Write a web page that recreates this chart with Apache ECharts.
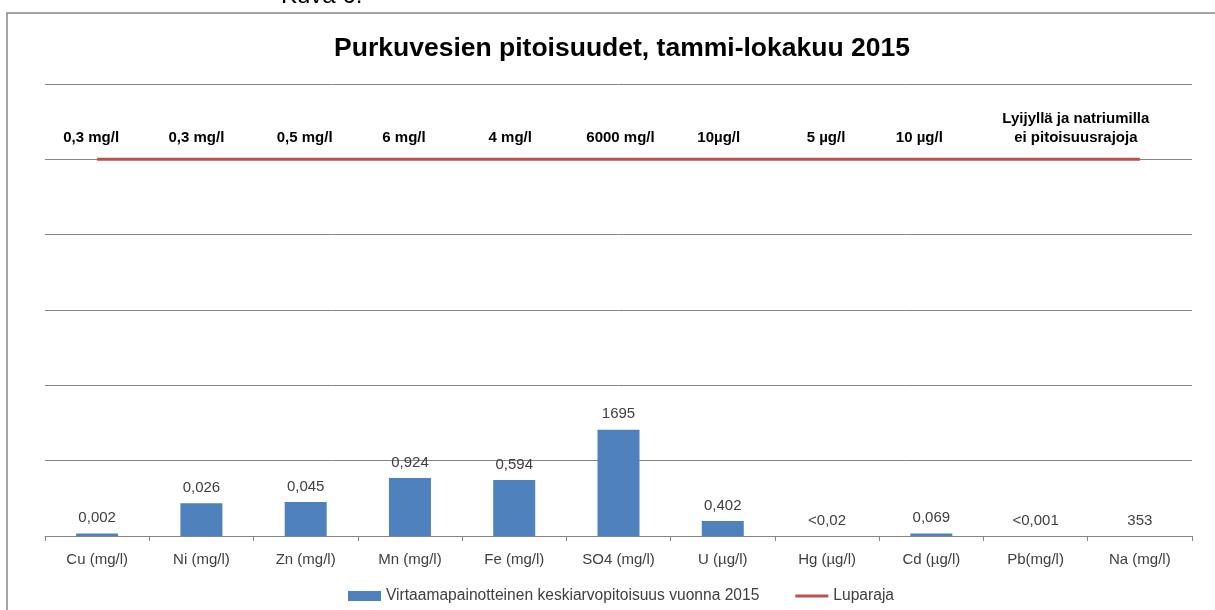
<!DOCTYPE html>
<html>
<head>
<meta charset="utf-8">
<script src="https://cdn.jsdelivr.net/npm/echarts@6/dist/echarts.min.js"></script>
<style>
  html, body { margin: 0; padding: 0; background: #fff; }
  #chart { width: 1215px; height: 610px; }
</style>
</head>
<body>
<div id="chart"></div>
<script>
// luokat (x-akseli)
const categories = ['Cu (mg/l)', 'Ni (mg/l)', 'Zn (mg/l)', 'Mn (mg/l)', 'Fe (mg/l)', 'SO4 (mg/l)',
    'U (µg/l)', 'Hg (µg/l)', 'Cd (µg/l)', 'Pb(mg/l)', 'Na (mg/l)'];
// pylvään korkeus = pitoisuus prosentteina luparajasta (luettu kuvasta)
const barPercent = [0.67, 8.7, 9.0, 15.4, 14.9, 28.2, 4.0, 0, 0.69, 0, 0];
// pylväiden yläpuolella näkyvät arvot
const barLabels = ['0,002', '0,026', '0,045', '0,924', '0,594', '1695', '0,402', '<0,02', '0,069', '<0,001', '353'];
// luparaja = 100 %
const limitLine = [100, 100, 100, 100, 100, 100, 100, 100, 100, 100, 100];
const limitLabels = ['0,3 mg/l', '0,3 mg/l', '0,5 mg/l', '6 mg/l', '4 mg/l', '6000 mg/l', '10µg/l',
    '5 µg/l', '10 µg/l', '', 'Lyijyllä ja natriumilla\nei pitoisuusrajoja'];

// tekstien pieni siirto vaakasuunnassa (px)
const limitShift = [-6, -5, -1, -6, -4, 2, -4, -1, -12, 0, -64];

const barName = 'Virtaamapainotteinen keskiarvopitoisuus vuonna 2015';
const lineName = 'Luparaja';

var myChart = echarts.init(document.getElementById('chart'));

var option = {
    animation: false,
    textStyle: { fontFamily: 'Liberation Sans' },
    title: {
        text: 'Purkuvesien pitoisuudet, tammi-lokakuu 2015',
        left: 617,
        textAlign: 'center',
        top: 30,
        textStyle: { fontSize: 26.5, fontWeight: 'bold', color: '#000' }
    },
    graphic: [
        {
            type: 'rect',
            shape: { x: 7, y: 13, width: 1400, height: 800 },
            style: { fill: 'none', stroke: '#868686', lineWidth: 1.5 },
            silent: true
        },
        {
            type: 'text',
            x: 281, y: 8,
            style: { text: 'Kuva 6.', fontSize: 24, fontFamily: 'Liberation Sans', fill: '#000', verticalAlign: 'bottom' }
        }
    ],
    legend: {
        left: 343,
        top: 583,
        itemWidth: 33,
        itemHeight: 10,
        itemGap: 36,
        textStyle: { fontSize: 15.6, color: '#404040' },
        data: [
            { name: barName, icon: 'rect' },
            { name: lineName, icon: 'path://M0,0 L33,0 L33,3 L0,3 Z' }
        ]
    },
    grid: { left: 45, right: 23, top: 84, bottom: 74 },
    xAxis: {
        type: 'category',
        data: categories,
        axisLine: { lineStyle: { color: '#868686', width: 1 } },
        axisTick: { show: true, length: 5, lineStyle: { color: '#868686' } },
        axisLabel: { fontSize: 15, color: '#404040', margin: 16 }
    },
    yAxis: {
        type: 'value',
        min: 0,
        max: 120,
        interval: 20,
        axisLabel: { show: false },
        axisLine: { show: false },
        axisTick: { show: false },
        splitLine: { lineStyle: { color: '#868686', width: 1 } }
    },
    series: [
        {
            name: barName,
            type: 'bar',
            data: barPercent,
            barWidth: 42,
            itemStyle: { color: '#4F81BD' },
            label: {
                show: true,
                position: 'top',
                distance: 8,
                fontSize: 15,
                color: '#404040',
                formatter: p => barLabels[p.dataIndex]
            }
        },
        {
            name: lineName,
            type: 'line',
            data: limitLine.map((v, i) => ({
                value: v,
                label: { formatter: limitLabels[i], offset: [limitShift[i], 0] }
            })),
            symbol: 'circle',
            symbolSize: 0,
            lineStyle: { color: '#C0504D', width: 3 },
            itemStyle: { color: '#C0504D' },
            label: {
                show: true,
                position: 'top',
                distance: 12,
                fontSize: 15,
                fontWeight: 'bold',
                lineHeight: 19,
                color: '#000'
            }
        }
    ]
};

myChart.setOption(option);
</script>
</body>
</html>
